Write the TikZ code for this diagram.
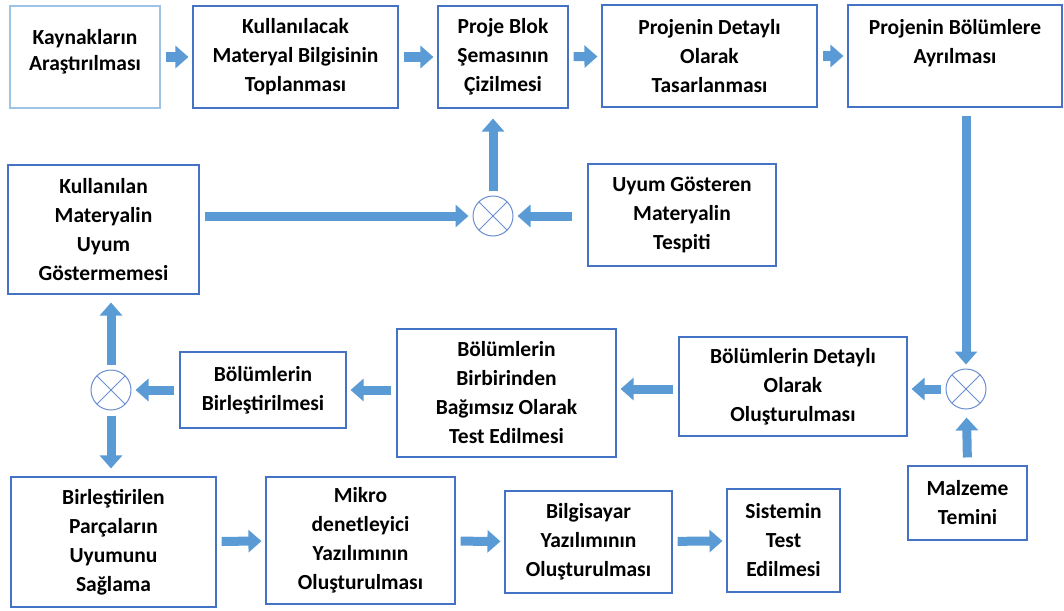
\documentclass[tikz,border=0pt]{standalone}
\usepackage{fontspec}
\setmainfont{Carlito}
\usetikzlibrary{arrows.meta}
\definecolor{boxblue}{HTML}{4472C4}
\definecolor{paleblue}{HTML}{9DC3E6}
\definecolor{arrowblue}{HTML}{5B9BD5}

\begin{document}
\begin{tikzpicture}[x=1pt, y=-1pt, >={Triangle[length=13pt,width=22pt]}, font=\fontsize{21.5}{29}\selectfont\bfseries]
	\tikzstyle{box}=[draw=boxblue, line width=1.1pt, fill=white, align=center, inner sep=0pt]
	\tikzstyle{junction}=[circle, draw=boxblue!80, line width=1pt, minimum size=40pt, inner sep=0pt,
		path picture={\draw[boxblue!80, line width=1pt] (path picture bounding box.north west) -- (path picture bounding box.south east) (path picture bounding box.north east) -- (path picture bounding box.south west);}]
	\tikzstyle{flow}=[->, draw=arrowblue, line width=9pt, shorten <=5pt, shorten >=4pt]

	\useasboundingbox (0,0) rectangle (1064,610);

	% top row
	\node[box, draw=paleblue, minimum width=150pt, minimum height=102pt, text depth=14pt] at (85,57) (kaynak) {Kaynakların\\[-3pt]Araştırılması};
	\node[box, minimum width=205pt, minimum height=102pt] at (295.5,57) (bilgi) {Kullanılacak\\Materyal Bilgisinin\\Toplanması};
	\node[box, minimum width=130pt, minimum height=102pt] at (503,57) (blok) {Proje Blok\\Şemasının\\Çizilmesi};
	\node[box, minimum width=215pt, minimum height=102pt] at (709.5,56) (tasarim) {Projenin Detaylı\\Olarak\\Tasarlanması};
	\node[box, minimum width=214pt, minimum height=102pt] at (955,56) (ayirma) {Projenin Bölümlere\\Ayrılması\\\mbox{}};

	% middle rows
	\node[box, minimum width=191pt, minimum height=129pt] at (103.5,229.5) (uyumsuz) {Kullanılan\\Materyalin\\Uyum\\Göstermemesi};
	\node[junction] at (493,216) (j1) {};
	\node[box, minimum width=188pt, minimum height=102pt] at (682,215) (uyum) {Uyum Gösteren\\Materyalin\\Tespiti};

	\node[junction] at (111,390) (j3) {};
	\node[box, minimum width=166pt, minimum height=76pt] at (263,390) (birles) {Bölümlerin\\Birleştirilmesi};
	\node[box, minimum width=219pt, minimum height=128pt] at (506.5,393) (test) {Bölümlerin\\Birbirinden\\Bağımsız Olarak\\Test Edilmesi};
	\node[box, minimum width=228pt, minimum height=99pt] at (793,386.5) (olustur) {Bölümlerin Detaylı\\Olarak\\Oluşturulması};
	\node[junction] at (966,389) (j2) {};
	\node[box, minimum width=119pt, minimum height=74pt] at (967.5,503) (malzeme) {Malzeme\\Temini};

	% bottom row
	\node[box, minimum width=205pt, minimum height=130pt] at (113.5,542) (parca) {Birleştirilen\\Parçaların\\Uyumunu\\Sağlama};
	\node[box, minimum width=189pt, minimum height=127pt] at (360.5,540.5) (mikro) {Mikro\\denetleyici\\Yazılımının\\Oluşturulması};
	\node[box, minimum width=167pt, minimum height=102pt] at (588.5,542) (bilgisayar) {Bilgisayar\\Yazılımının\\Oluşturulması};
	\node[box, minimum width=113pt, minimum height=103pt] at (783.5,540.5) (sistem) {Sistemin\\Test\\Edilmesi};

	\path
	(kaynak) edge[flow] (bilgi)
	(bilgi) edge[flow] (blok)
	(blok) edge[flow] (tasarim)
	(tasarim) edge[flow] (ayirma)
	(j2 |- ayirma.south) edge[flow, shorten <=8pt] (j2)
	(malzeme.north) edge[flow, shorten <=8pt, shorten >=8pt] (j2)
	(j2) edge[flow] (j2 -| olustur.east)
	(olustur.west |- j2) edge[flow] (test.east |- j2)
	(test.west |- birles) edge[flow] (birles)
	(birles) edge[flow] (j3)
	(j3) edge[flow, shorten >=8pt] (j3 |- uyumsuz.south)
	(j3) edge[flow, shorten >=8pt] (j3 |- parca.north)
	(j1 -| uyumsuz.east) edge[flow] (j1)
	(uyum.west |- j1) edge[flow, shorten <=15pt] (j1)
	(j1) edge[flow, shorten >=10pt] (j1 |- blok.south)
	(parca) edge[flow] (mikro)
	(mikro) edge[flow] (bilgisayar)
	(bilgisayar) edge[flow] (sistem);
\end{tikzpicture}
\end{document}
